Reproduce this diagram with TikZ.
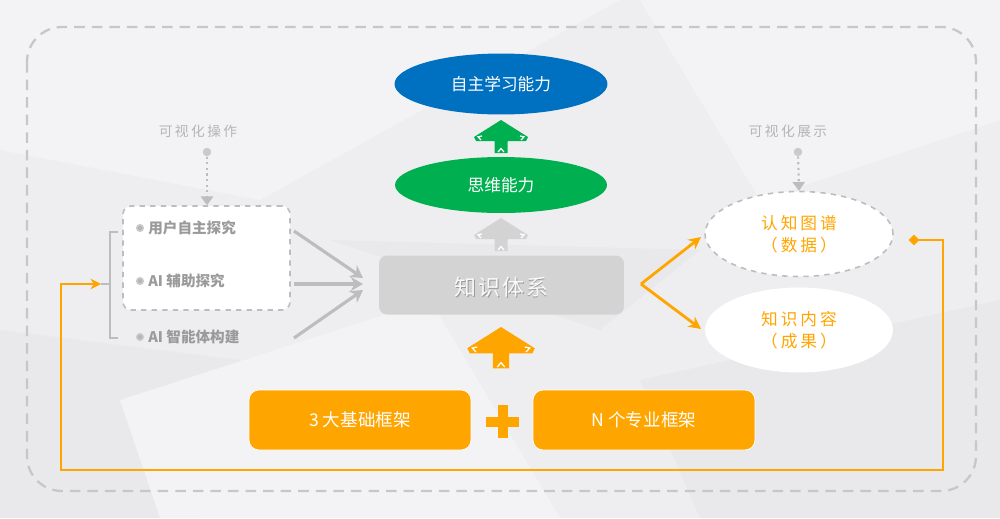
\documentclass[tikz,border=0pt]{standalone}
\usepackage{fontspec}
\setmainfont{Noto Sans CJK SC}
\newfontfamily\widefont[LetterSpace=18]{Noto Sans CJK SC}
\newfontfamily\midfont[LetterSpace=8]{Noto Sans CJK SC}
\usetikzlibrary{arrows.meta,shapes.geometric}
\definecolor{bgc}{HTML}{EEEEF0}
\definecolor{bgl}{HTML}{F3F3F5}
\definecolor{bgd}{HTML}{E9E9EC}
\definecolor{blueC}{HTML}{0070C0}
\definecolor{greenC}{HTML}{00B050}
\definecolor{orangeC}{HTML}{FFA500}
\definecolor{grayBox}{HTML}{D3D3D3}
\definecolor{grayLine}{HTML}{BDBDBD}
\definecolor{grayTxt}{HTML}{9A9A9A}
\definecolor{lightTxt}{HTML}{B5B5B5}
\tikzset{
  fancyarrow/.pic={
    \path[pic actions] (0,0) -- (27,17) -- (25,21) -- (6.5,21) -- (6.5,33) -- (-6.5,33) -- (-6.5,21) -- (-25,21) -- (-27,17) -- cycle;
    \draw[white,line width=0.7pt] (-20,20) -- (-23,16.8) -- (-19,16);
    \draw[white,line width=0.7pt] (20,20) -- (23,16.8) -- (19,16);
    \draw[white,line width=0.7pt] (-3,32) -- (0,28.5) -- (3,32);
  },
  ellip/.style={ellipse,inner sep=0pt,text=white,font=\fontsize{9.5}{11}\selectfont},
  obox/.style={rounded corners=0.2cm,fill=orangeC,draw=white,line width=0.4pt,minimum width=4.44cm,minimum height=1.2cm,text=white,font=\fontsize{10}{12}\selectfont},
  item/.style={anchor=west,text=grayTxt,font=\fontsize{8.3}{10}\selectfont\bfseries,inner sep=0pt},
  bul/.style={circle,draw=lightTxt!70,fill=lightTxt,line width=0.9pt,minimum size=0.13cm,inner sep=0pt},
  vislabel/.style={text=lightTxt,font=\fontsize{7.8}{9}\selectfont\widefont},
  grayarr/.style={draw=grayLine,line width=1.8pt,-{Stealth[length=7pt,width=8pt]}},
  orarr/.style={draw=orangeC,line width=1.6pt,-{Stealth[length=7pt,width=7pt]}},
  dotline/.style={draw=grayLine,line width=1.2pt,dotted,-{Triangle[length=5pt,width=7pt]}},
  rellip/.style={ellipse,fill=white,minimum width=3.76cm,minimum height=1.7cm,inner sep=0pt,align=center,text=orangeC,font=\fontsize{9.5}{12.5}\selectfont\widefont},
}
\begin{document}
\begin{tikzpicture}[x=0.02cm,y=-0.02cm]
\useasboundingbox (0,0) rectangle (1000,518);
% background
\fill[bgc] (0,0) rectangle (1000,518);
\fill[bgl] (0,0) -- (620,0) -- (260,200) -- (0,150) -- cycle;
\fill[bgl] (640,0) -- (1000,0) -- (1000,120) -- (760,200) -- cycle;
\fill[bgd] (0,330) -- (240,360) -- (200,518) -- (0,518) -- cycle;
\fill[bgl] (120,400) -- (430,300) -- (560,518) -- (160,518) -- cycle;
\fill[bgd] (640,380) -- (1000,300) -- (1000,518) -- (700,518) -- cycle;
\fill[bgd] (330,240) -- (700,250) -- (600,330) -- cycle;
% outer dashed frame
\draw[grayLine!85,line width=1.3pt,dash pattern=on 6pt off 4pt,rounded corners=0.7cm] (27,27) rectangle (976,491);

% top ellipses
\node[ellip,fill=blueC,minimum width=4.26cm,minimum height=1.22cm] (ability) at (501,84) {自主学习能力};
\node[ellip,fill=greenC,minimum width=4.24cm,minimum height=1.12cm] (thinking) at (501,185) {思维能力};
\pic[fill=greenC] (garrow) at (501,120) {fancyarrow};
\pic[fill=grayBox] (grarrow) at (501,218) {fancyarrow};
\pic[fill=orangeC,scale=1.25] (orarrow) at (501,327) {fancyarrow};

% knowledge system
\node[rounded corners=0.16cm,fill=grayBox,minimum width=4.9cm,minimum height=1.18cm] (ks) at (501.5,285) {};
\node[text=gray!80,font=\fontsize{12.5}{14}\selectfont\midfont] (ksshadow) at (502.3,288.3) {知识体系};
\node[text=white!95!gray,font=\fontsize{12.5}{14}\selectfont\midfont] (kstext) at (501.5,287) {知识体系};

% bottom orange boxes
\node[obox] (base) at (360,420) {3 大基础框架};
\node[obox] (prof) at (644,420) {N 个专业框架};
\fill[orangeC] (497.5,405) rectangle (507.5,438);
\fill[orangeC] (486,416.5) rectangle (519,426.5);
\node[inner sep=0pt,minimum size=0.66cm] (plus) at (502.5,421.5) {};

% left dashed box
\node[draw=grayLine,fill=white,dashed,line width=0.9pt,rounded corners=0.16cm,minimum width=3.34cm,minimum height=2.08cm] (leftbox) at (206.5,258) {};
\node[bul] (b1) at (140,228) {};
\node[bul] (b2) at (140,281) {};
\node[bul] (b3) at (140,337) {};
\node[item] (i1) at (148,228) {用户自主探究};
\node[item] (i2) at (148,281) {AI 辅助探究};
\node[item] (i3) at (148,337) {AI 智能体构建};

% bracket
\coordinate (brT) at (118,232);
\coordinate (brB) at (118,338);
\coordinate (brM) at (110,284);
\coordinate (brL) at (101,284);
\draw[grayLine,line width=1.3pt] (brT) -- (110,232) -- (110,338) -- (brB);
\draw[grayLine,line width=1.3pt] (brM) -- (brL);

% visualisation labels
\node[vislabel] (opl) at (198,131) {可视化操作};
\node[circle,fill=grayLine!80,minimum size=0.17cm,inner sep=0pt] (opdot) at (207,152) {};
\draw[dotline] (opdot) -- (leftbox.north -| opdot);
\node[vislabel] (shl) at (788,131) {可视化展示};
\node[circle,fill=grayLine!80,minimum size=0.17cm,inner sep=0pt] (shdot) at (798,152) {};

% right ellipses
\node[rellip,draw=grayLine,dashed,line width=0.9pt] (cog) at (799,234) {认知图谱\\（数据）};
\node[rellip] (cont) at (799,330) {知识内容\\（成果）};
\draw[dotline] (shdot) -- (cog.north);

% gray arrows into knowledge system
\coordinate (g1s) at (294,231);
\coordinate (g2s) at (294,284);
\coordinate (g3s) at (294,338);
\coordinate (g1e) at (363,278);
\coordinate (g2e) at (363,284);
\coordinate (g3e) at (363,290);
\draw[grayarr] (g1s) -- (g1e);
\draw[grayarr] (g2s) -- (g2e);
\draw[grayarr] (g3s) -- (g3e);

% orange arrows out
\coordinate (fork) at (641,284);
\coordinate (cogIn) at (701,237);
\coordinate (contIn) at (701,329);
\draw[orarr] (fork) -- (cogIn);
\draw[orarr] (fork) -- (contIn);

% orange feedback loop
\coordinate (fbS) at (914,240);
\draw[orangeC,line width=1.4pt,-{Stealth[length=6pt,width=6pt]}] (fbS) -- (943,240) -- (943,470) -- (61,470) -- (61,284) -- (brL);
\node[diamond,fill=orangeC,minimum size=0.22cm,inner sep=0pt] (fbd) at (fbS) {};
\end{tikzpicture}
\end{document}
